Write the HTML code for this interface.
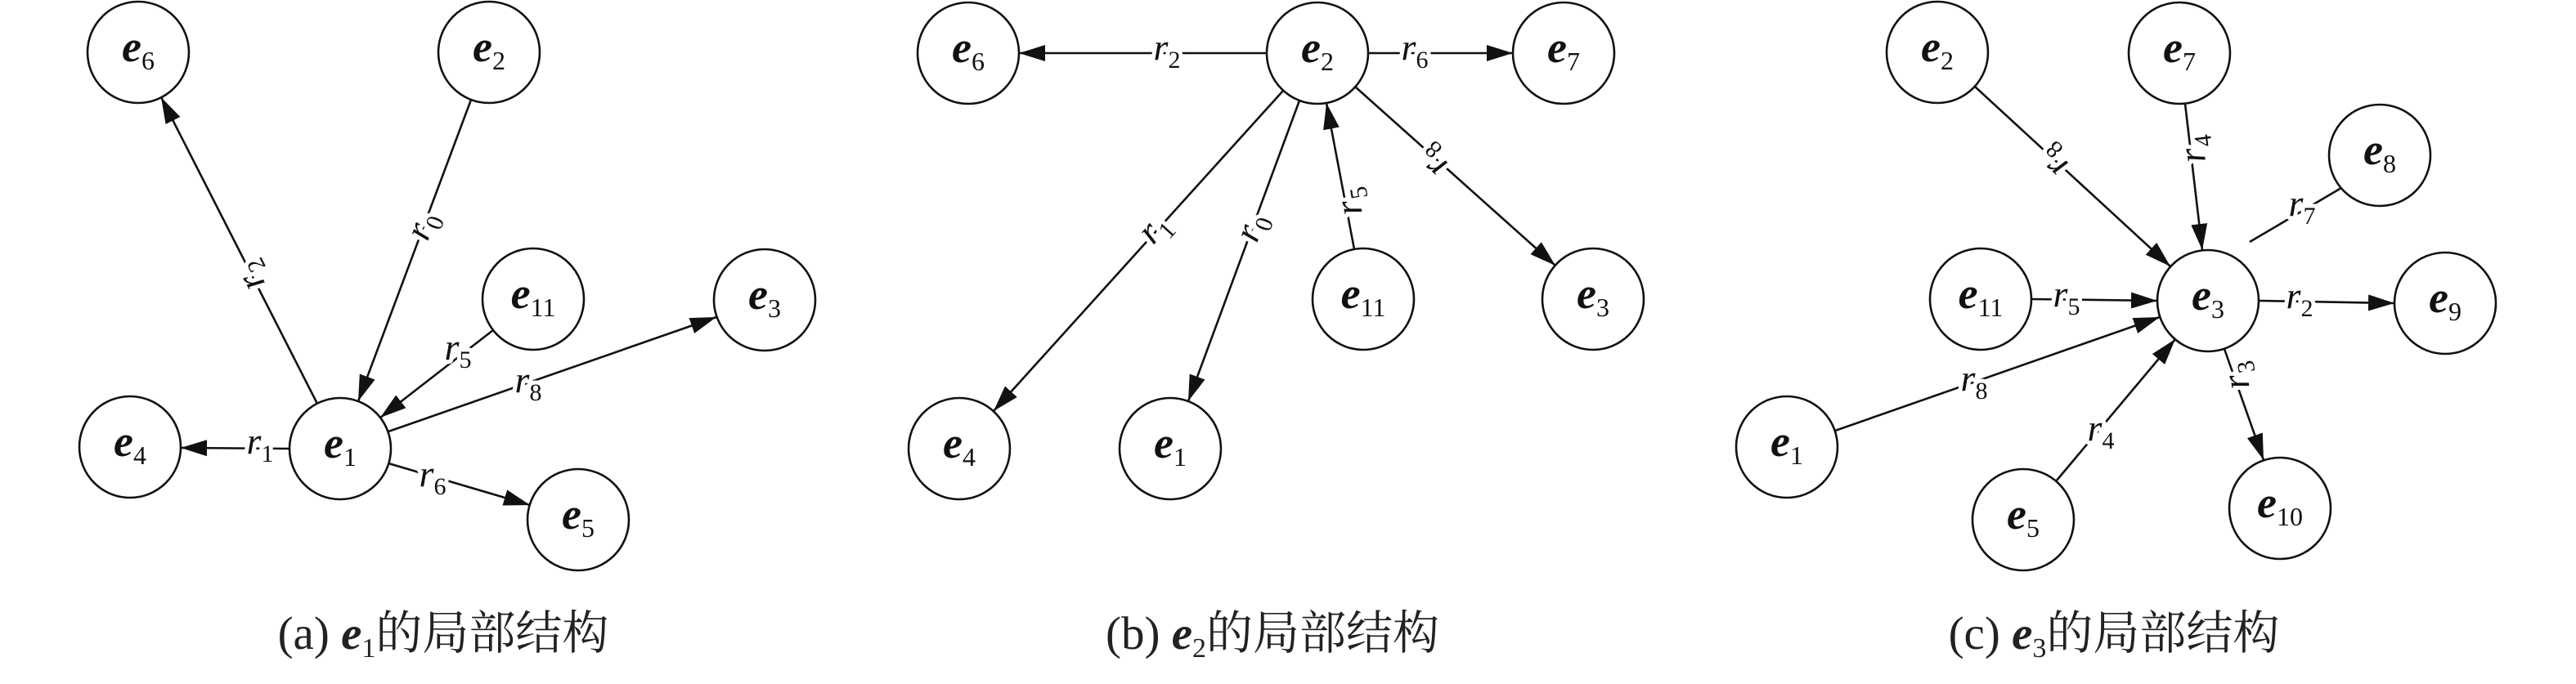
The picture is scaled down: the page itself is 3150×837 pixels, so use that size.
<!DOCTYPE html>
<html><head><meta charset="utf-8">
<style>
html,body{margin:0;padding:0;background:#fff;}
svg{display:block;}
.n{fill:#fff;stroke:#111;stroke-width:2.6;}
.l{stroke:#111;stroke-width:2.6;fill:none;}
.nt{font-family:"Liberation Serif",serif;font-size:54px;fill:#111;}
.nt .e{font-weight:bold;font-style:italic;}
.nt .s{font-size:32px;font-weight:normal;font-style:normal;}
.lb{font-family:"Liberation Serif",serif;font-size:46px;font-style:italic;fill:#111;stroke:#fff;stroke-width:10px;paint-order:stroke;stroke-linejoin:round;}
.lb .s{font-size:30px;font-style:normal;}
.cap{font-family:"Liberation Serif","Noto Serif CJK SC",serif;font-size:57px;fill:#222;}
.cap .e{font-weight:bold;font-style:italic;}
.cap .s{font-size:34px;}
</style></head>
<body>
<svg width="3150" height="837" viewBox="0 0 3150 837" xmlns="http://www.w3.org/2000/svg">
<defs>
<marker id="a" markerUnits="userSpaceOnUse" markerWidth="34" markerHeight="22" refX="32" refY="10" orient="auto">
<path d="M0,0 L32,10 L0,20 z" fill="#111"/>
</marker>
</defs>

<!-- Panel (a) -->
<g>
<line class="l" x1="388" y1="494" x2="197" y2="119" marker-end="url(#a)"/>
<line class="l" x1="576" y1="122" x2="438" y2="491" marker-end="url(#a)"/>
<line class="l" x1="603" y1="404" x2="465" y2="511" marker-end="url(#a)"/>
<line class="l" x1="475" y1="528" x2="876" y2="388" marker-end="url(#a)"/>
<line class="l" x1="354" y1="549" x2="221" y2="548" marker-end="url(#a)"/>
<line class="l" x1="475" y1="567" x2="648" y2="618" marker-end="url(#a)"/>
<circle class="n" cx="169" cy="64" r="62"/>
<circle class="n" cx="598" cy="64" r="62"/>
<circle class="n" cx="652" cy="366" r="62"/>
<circle class="n" cx="935" cy="367" r="62"/>
<circle class="n" cx="159" cy="547" r="62"/>
<circle class="n" cx="416" cy="549" r="62"/>
<circle class="n" cx="707" cy="636" r="62"/>
<text class="nt" x="169" y="75" text-anchor="middle"><tspan class="e">e</tspan><tspan class="s" dy="10">6</tspan></text>
<text class="nt" x="598" y="75" text-anchor="middle"><tspan class="e">e</tspan><tspan class="s" dy="10">2</tspan></text>
<text class="nt" x="652" y="377" text-anchor="middle"><tspan class="e">e</tspan><tspan class="s" dy="10">11</tspan></text>
<text class="nt" x="935" y="378" text-anchor="middle"><tspan class="e">e</tspan><tspan class="s" dy="10">3</tspan></text>
<text class="nt" x="159" y="558" text-anchor="middle"><tspan class="e">e</tspan><tspan class="s" dy="10">4</tspan></text>
<text class="nt" x="416" y="560" text-anchor="middle"><tspan class="e">e</tspan><tspan class="s" dy="10">1</tspan></text>
<text class="nt" x="707" y="647" text-anchor="middle"><tspan class="e">e</tspan><tspan class="s" dy="10">5</tspan></text>
<text class="lb" transform="translate(318,547)" text-anchor="middle" y="8">r<tspan class="s" dy="10">1</tspan></text>
<text class="lb" transform="translate(310,336) rotate(-117)" text-anchor="middle" y="8">r<tspan class="s" dy="10">2</tspan></text>
<text class="lb" transform="translate(521,278) rotate(-69)" text-anchor="middle" y="8">r<tspan class="s" dy="10">0</tspan></text>
<text class="lb" transform="translate(560,432)" text-anchor="middle" y="8">r<tspan class="s" dy="10">5</tspan></text>
<text class="lb" transform="translate(646,472)" text-anchor="middle" y="8">r<tspan class="s" dy="10">8</tspan></text>
<text class="lb" transform="translate(529,587)" text-anchor="middle" y="8">r<tspan class="s" dy="10">6</tspan></text>
<text class="cap" x="542" y="794" text-anchor="middle">(a) <tspan class="e">e</tspan><tspan class="s" dy="10">1</tspan><tspan dy="-10">的局部结构</tspan></text>
</g>

<!-- Panel (b) -->
<g>
<line class="l" x1="1549" y1="65" x2="1246" y2="65" marker-end="url(#a)"/>
<line class="l" x1="1673" y1="65" x2="1850" y2="65" marker-end="url(#a)"/>
<line class="l" x1="1569" y1="111" x2="1215" y2="503" marker-end="url(#a)"/>
<line class="l" x1="1589" y1="123" x2="1453" y2="491" marker-end="url(#a)"/>
<line class="l" x1="1656" y1="305" x2="1622" y2="126" marker-end="url(#a)"/>
<line class="l" x1="1657" y1="106" x2="1902" y2="325" marker-end="url(#a)"/>
<circle class="n" cx="1184" cy="65" r="62"/>
<circle class="n" cx="1611" cy="65" r="62"/>
<circle class="n" cx="1912" cy="65" r="62"/>
<circle class="n" cx="1667" cy="366" r="62"/>
<circle class="n" cx="1948" cy="366" r="62"/>
<circle class="n" cx="1173" cy="549" r="62"/>
<circle class="n" cx="1431" cy="549" r="62"/>
<text class="nt" x="1184" y="76" text-anchor="middle"><tspan class="e">e</tspan><tspan class="s" dy="10">6</tspan></text>
<text class="nt" x="1611" y="76" text-anchor="middle"><tspan class="e">e</tspan><tspan class="s" dy="10">2</tspan></text>
<text class="nt" x="1912" y="76" text-anchor="middle"><tspan class="e">e</tspan><tspan class="s" dy="10">7</tspan></text>
<text class="nt" x="1667" y="377" text-anchor="middle"><tspan class="e">e</tspan><tspan class="s" dy="10">11</tspan></text>
<text class="nt" x="1948" y="377" text-anchor="middle"><tspan class="e">e</tspan><tspan class="s" dy="10">3</tspan></text>
<text class="nt" x="1173" y="560" text-anchor="middle"><tspan class="e">e</tspan><tspan class="s" dy="10">4</tspan></text>
<text class="nt" x="1431" y="560" text-anchor="middle"><tspan class="e">e</tspan><tspan class="s" dy="10">1</tspan></text>
<text class="lb" transform="translate(1427,65)" text-anchor="middle" y="8">r<tspan class="s" dy="10">2</tspan></text>
<text class="lb" transform="translate(1730,65)" text-anchor="middle" y="8">r<tspan class="s" dy="10">6</tspan></text>
<text class="lb" transform="translate(1415,283) rotate(-48)" text-anchor="middle" y="8">r<tspan class="s" dy="10">1</tspan></text>
<text class="lb" transform="translate(1535,280) rotate(-70)" text-anchor="middle" y="8">r<tspan class="s" dy="10">0</tspan></text>
<text class="lb" transform="translate(1655,246) rotate(-100)" text-anchor="middle" y="8">r<tspan class="s" dy="10">5</tspan></text>
<text class="lb" transform="translate(1754,195) rotate(-138)" text-anchor="middle" y="8">r<tspan class="s" dy="10">8</tspan></text>
<text class="cap" x="1556" y="794" text-anchor="middle">(b) <tspan class="e">e</tspan><tspan class="s" dy="10">2</tspan><tspan dy="-10">的局部结构</tspan></text>
</g>

<!-- Panel (c) -->
<g>
<line class="l" x1="2415" y1="106" x2="2654" y2="326" marker-end="url(#a)"/>
<line class="l" x1="2672" y1="127" x2="2693" y2="306" marker-end="url(#a)"/>
<line class="l" x1="2863" y1="230" x2="2751" y2="296"/>
<line class="l" x1="2484" y1="366" x2="2638" y2="368" marker-end="url(#a)"/>
<line class="l" x1="2762" y1="368" x2="2928" y2="371" marker-end="url(#a)"/>
<line class="l" x1="2244" y1="527" x2="2641" y2="388" marker-end="url(#a)"/>
<line class="l" x1="2514" y1="589" x2="2660" y2="415" marker-end="url(#a)"/>
<line class="l" x1="2720" y1="427" x2="2768" y2="563" marker-end="url(#a)"/>
<circle class="n" cx="2369" cy="64" r="62"/>
<circle class="n" cx="2665" cy="65" r="62"/>
<circle class="n" cx="2910" cy="190" r="62"/>
<circle class="n" cx="2422" cy="366" r="62"/>
<circle class="n" cx="2700" cy="368" r="62"/>
<circle class="n" cx="2990" cy="371" r="62"/>
<circle class="n" cx="2185" cy="547" r="62"/>
<circle class="n" cx="2474" cy="636" r="62"/>
<circle class="n" cx="2788" cy="622" r="62"/>
<text class="nt" x="2369" y="75" text-anchor="middle"><tspan class="e">e</tspan><tspan class="s" dy="10">2</tspan></text>
<text class="nt" x="2665" y="76" text-anchor="middle"><tspan class="e">e</tspan><tspan class="s" dy="10">7</tspan></text>
<text class="nt" x="2910" y="201" text-anchor="middle"><tspan class="e">e</tspan><tspan class="s" dy="10">8</tspan></text>
<text class="nt" x="2422" y="377" text-anchor="middle"><tspan class="e">e</tspan><tspan class="s" dy="10">11</tspan></text>
<text class="nt" x="2700" y="379" text-anchor="middle"><tspan class="e">e</tspan><tspan class="s" dy="10">3</tspan></text>
<text class="nt" x="2990" y="382" text-anchor="middle"><tspan class="e">e</tspan><tspan class="s" dy="10">9</tspan></text>
<text class="nt" x="2185" y="558" text-anchor="middle"><tspan class="e">e</tspan><tspan class="s" dy="10">1</tspan></text>
<text class="nt" x="2474" y="647" text-anchor="middle"><tspan class="e">e</tspan><tspan class="s" dy="10">5</tspan></text>
<text class="nt" x="2788" y="633" text-anchor="middle"><tspan class="e">e</tspan><tspan class="s" dy="10">10</tspan></text>
<text class="lb" transform="translate(2513,195) rotate(-137)" text-anchor="middle" y="8">r<tspan class="s" dy="10">8</tspan></text>
<text class="lb" transform="translate(2687,182) rotate(-97)" text-anchor="middle" y="8">r<tspan class="s" dy="10">4</tspan></text>
<text class="lb" transform="translate(2815,256)" text-anchor="middle" y="8">r<tspan class="s" dy="10">7</tspan></text>
<text class="lb" transform="translate(2527,367)" text-anchor="middle" y="8">r<tspan class="s" dy="10">5</tspan></text>
<text class="lb" transform="translate(2812,369)" text-anchor="middle" y="8">r<tspan class="s" dy="10">2</tspan></text>
<text class="lb" transform="translate(2414,470)" text-anchor="middle" y="8">r<tspan class="s" dy="10">8</tspan></text>
<text class="lb" transform="translate(2569,531)" text-anchor="middle" y="8">r<tspan class="s" dy="10">4</tspan></text>
<text class="lb" transform="translate(2740,459) rotate(-100)" text-anchor="middle" y="8">r<tspan class="s" dy="10">3</tspan></text>
<text class="cap" x="2585" y="794" text-anchor="middle">(c) <tspan class="e">e</tspan><tspan class="s" dy="10">3</tspan><tspan dy="-10">的局部结构</tspan></text>
</g>
</svg>
</body></html>
